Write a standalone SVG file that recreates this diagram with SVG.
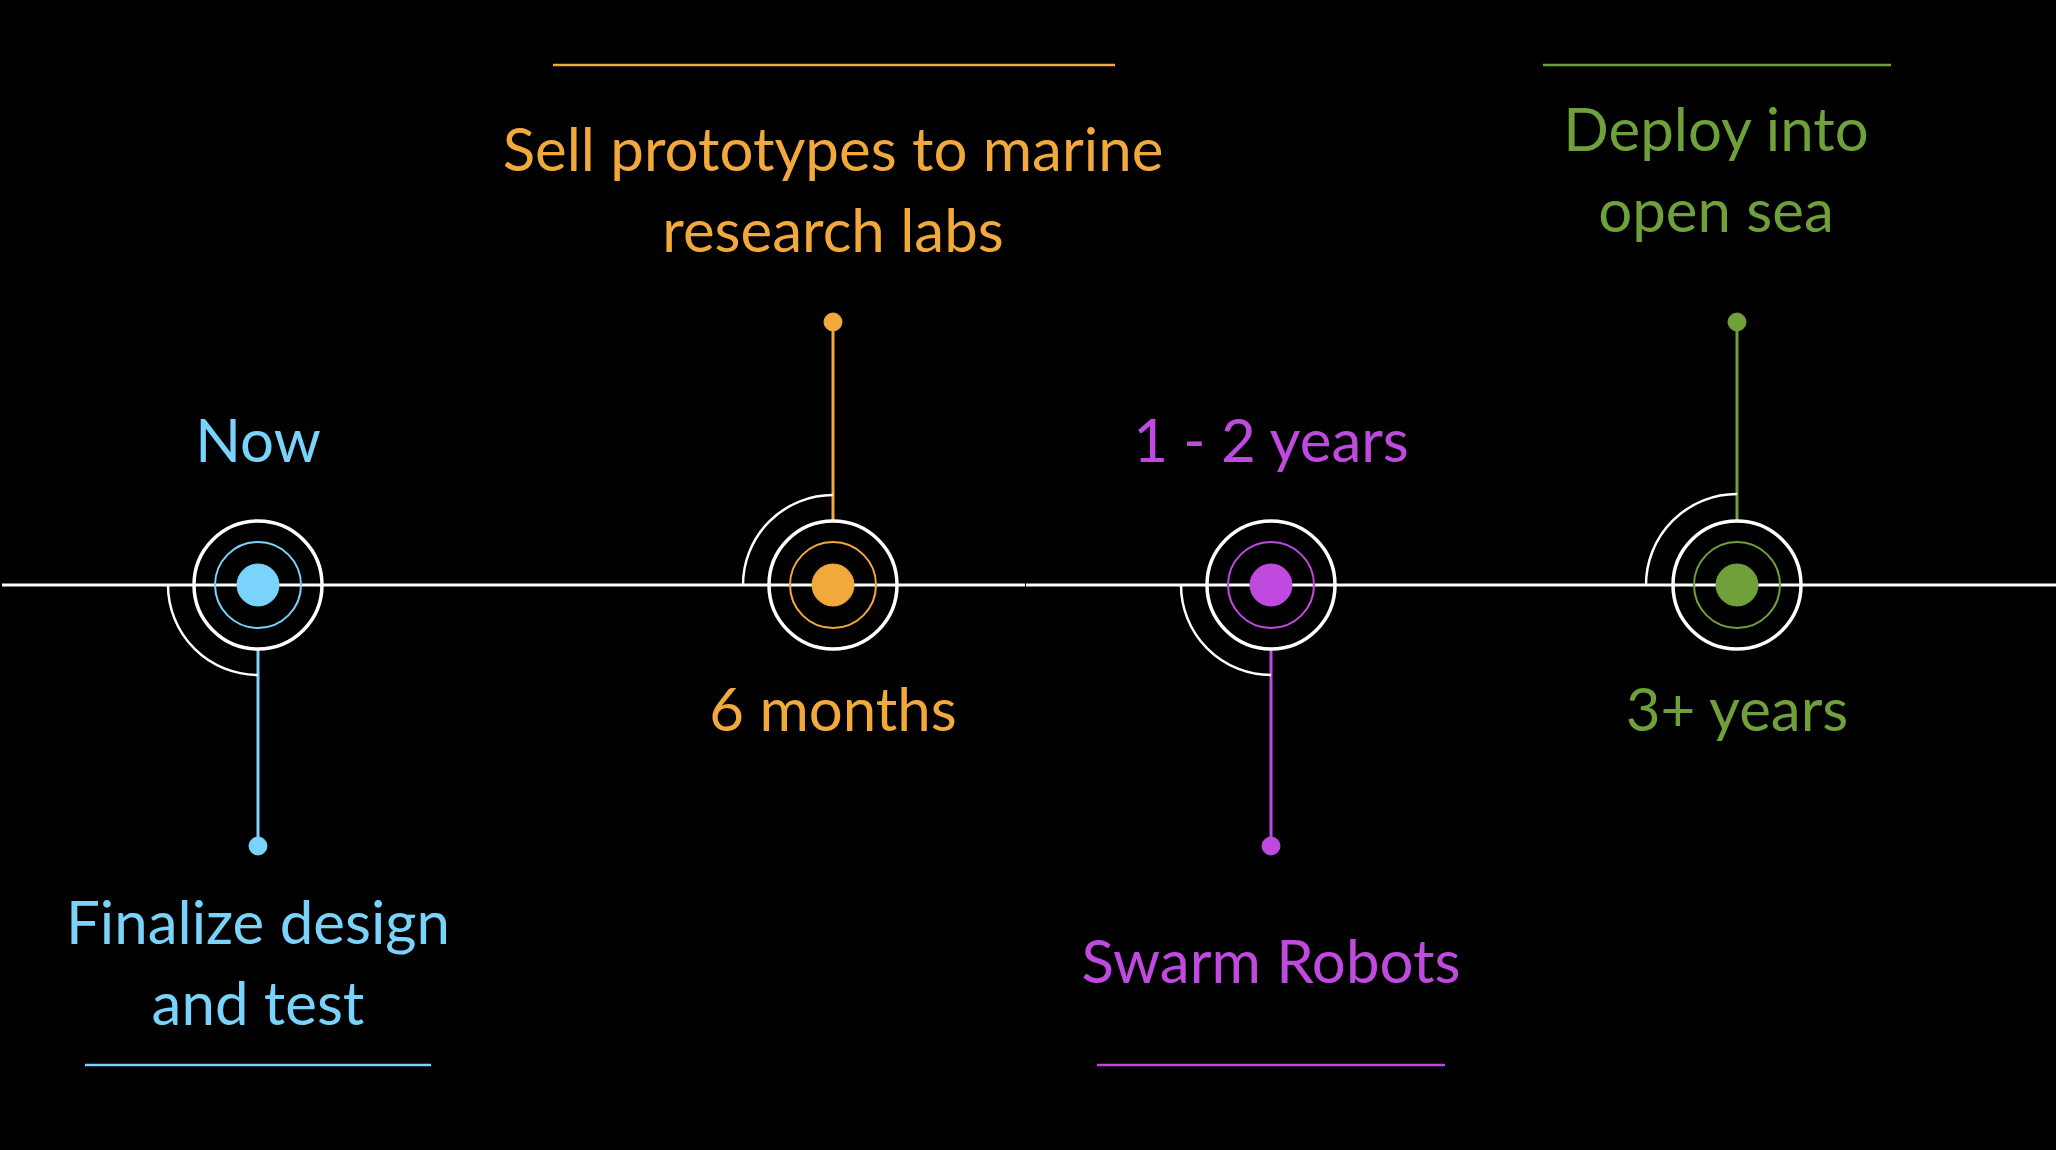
<svg xmlns="http://www.w3.org/2000/svg" width="2056" height="1150" viewBox="0 0 2056 1150">
<style>
text{font-family:Lato,"Noto Sans","Liberation Sans",sans-serif;font-size:60px;text-anchor:middle;font-weight:400}
.ring{fill:none;stroke:#fff;stroke-width:3.5}
.arc{fill:none;stroke:#fff;stroke-width:2.5}
.b{fill:#7AD3FA;stroke:#7AD3FA}
.o{fill:#F2A93B;stroke:#F2A93B}
.p{fill:#C04ADF;stroke:#C04ADF}
.g{fill:#6FA03A;stroke:#6FA03A}
.in{fill:none;stroke-width:2}
.stem{stroke-width:3;fill:none}
.rule{stroke-width:2.5;fill:none}
text.b,text.o,text.p,text.g{stroke:none}
</style>
<rect width="2056" height="1150" fill="#000"/>
<g id="connectors">
<line x1="2" y1="585" x2="1025" y2="585" stroke="#fff" stroke-width="3"/>
<line x1="1026" y1="585" x2="2056" y2="585" stroke="#fff" stroke-width="3"/>
<line class="b stem" x1="258" y1="650" x2="258" y2="846"/>
<line class="o stem" x1="833" y1="520" x2="833" y2="322"/>
<line class="p stem" x1="1271" y1="650" x2="1271" y2="846"/>
<line class="g stem" x1="1737" y1="520" x2="1737" y2="322"/>
</g>
<g id="node-now">
<path class="arc" d="M168 585 A90 90 0 0 0 258 675"/>
<circle class="ring" cx="258" cy="585" r="64"/>
<circle class="b in" cx="258" cy="585" r="43"/>
<circle class="b" stroke="none" cx="258" cy="585" r="21"/>
<circle class="b" stroke="none" cx="258" cy="846" r="9"/>
<text class="b" x="258" y="462">Now</text>
<text class="b" x="258" y="944">Finalize design</text>
<text class="b" x="258" y="1025">and test</text>
<line class="b rule" x1="85" y1="1065" x2="431" y2="1065"/>
</g>
<g id="node-6months">
<path class="arc" d="M743 585 A90 90 0 0 1 833 495"/>
<circle class="ring" cx="833" cy="585" r="64"/>
<circle class="o in" cx="833" cy="585" r="43"/>
<circle class="o" stroke="none" cx="833" cy="585" r="21"/>
<circle class="o" stroke="none" cx="833" cy="322" r="9"/>
<text class="o" x="833" y="731">6 months</text>
<text class="o" x="833" y="171">Sell prototypes to marine</text>
<text class="o" x="833" y="252">research labs</text>
<line class="o rule" x1="553" y1="65" x2="1115" y2="65"/>
</g>
<g id="node-1-2years">
<path class="arc" d="M1181 585 A90 90 0 0 0 1271 675"/>
<circle class="ring" cx="1271" cy="585" r="64"/>
<circle class="p in" cx="1271" cy="585" r="43"/>
<circle class="p" stroke="none" cx="1271" cy="585" r="21"/>
<circle class="p" stroke="none" cx="1271" cy="846" r="9"/>
<text class="p" x="1271" y="462">1 - 2 years</text>
<text class="p" x="1271" y="983">Swarm Robots</text>
<line class="p rule" x1="1097" y1="1065" x2="1445" y2="1065"/>
</g>
<g id="node-3years">
<path class="arc" d="M1646 585 A91 91 0 0 1 1737 494"/>
<circle class="ring" cx="1737" cy="585" r="64"/>
<circle class="g in" cx="1737" cy="585" r="43"/>
<circle class="g" stroke="none" cx="1737" cy="585" r="21"/>
<circle class="g" stroke="none" cx="1737" cy="322" r="9"/>
<text class="g" x="1737" y="731">3+ years</text>
<text class="g" x="1716" y="151">Deploy into</text>
<text class="g" x="1716" y="232">open sea</text>
<line class="g rule" x1="1543" y1="65" x2="1891" y2="65"/>
</g>
</svg>
